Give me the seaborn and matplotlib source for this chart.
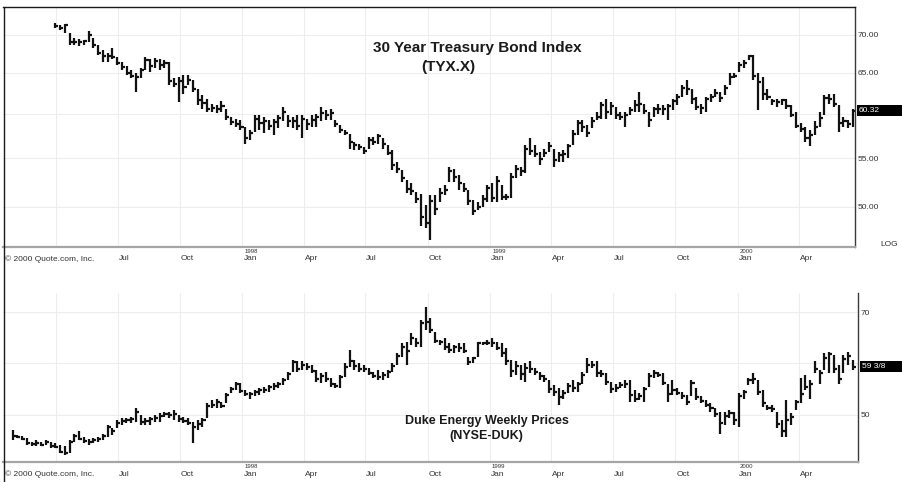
import numpy as np
import pandas as pd
import seaborn as sns
import matplotlib
matplotlib.use('Agg')
import matplotlib.pyplot as plt
import matplotlib.dates as mdates
import matplotlib.transforms as mtransforms
from matplotlib.patches import Rectangle
from matplotlib.lines import Line2D

# weekly bars
tyx_start = '1997-03-31'
tyx_high = [71.6, 71.3, 71.5, 70.2, 69.5, 69.4, 69.3, 70.5, 69.5, 68.6,
            67.9, 67.5, 68.2, 67.0, 66.4, 65.8, 65.3, 64.9, 65.6, 67.0,
            66.8, 66.9, 66.8, 66.6, 66.4, 64.3, 64.5, 64.7, 64.7, 64.1,
            63.0, 62.2, 61.8, 61.2, 61.0, 61.5, 60.6, 59.6, 59.4, 59.3,
            58.5, 58.1, 59.8, 59.8, 59.6, 59.3, 59.4, 59.8, 60.8, 59.8,
            59.6, 59.8, 59.8, 59.4, 59.8, 60.0, 60.8, 60.4, 60.6, 59.3,
            58.7, 58.1, 57.7, 56.8, 56.6, 56.2, 57.3, 57.3, 57.7, 57.2,
            56.4, 55.9, 54.6, 53.7, 52.7, 52.4, 51.5, 51.3, 50.2, 51.2,
            51.2, 51.9, 52.2, 54.1, 53.9, 53.2, 52.4, 51.7, 50.7, 50.5,
            51.2, 52.2, 52.4, 53.1, 52.2, 51.3, 53.4, 54.3, 54.1, 56.4,
            57.2, 56.4, 55.7, 56.0, 56.8, 56.0, 55.7, 55.9, 56.6, 58.1,
            59.3, 59.3, 58.7, 59.6, 60.2, 61.4, 61.8, 61.4, 60.8, 60.2,
            60.2, 60.8, 61.6, 62.6, 61.2, 60.2, 60.8, 61.2, 61.0, 61.2,
            61.8, 62.4, 63.4, 64.1, 63.0, 62.0, 61.2, 62.0, 62.4, 63.0,
            62.6, 63.4, 64.9, 64.9, 66.4, 66.6, 67.3, 67.3, 64.9, 64.5,
            63.0, 61.8, 61.8, 61.8, 61.8, 61.0, 60.2, 58.9, 58.5, 58.1,
            59.1, 60.2, 62.2, 62.4, 62.4, 61.0, 59.6, 59.3, 60.5]
tyx_low = [70.9, 70.7, 70.2, 68.6, 68.6, 68.5, 68.6, 69.0, 68.2, 67.3,
           66.4, 66.4, 66.8, 66.0, 65.3, 64.7, 64.3, 62.6, 64.3, 65.3,
           65.1, 65.6, 65.3, 65.6, 63.4, 63.2, 61.4, 62.4, 63.4, 62.6,
           61.0, 60.6, 60.2, 60.2, 60.1, 60.2, 59.3, 58.7, 58.5, 58.1,
           56.6, 57.0, 57.9, 58.1, 57.8, 58.1, 57.5, 58.3, 59.1, 58.5,
           58.3, 58.1, 57.2, 58.1, 58.5, 58.5, 59.1, 59.3, 59.3, 58.5,
           57.8, 57.5, 56.0, 55.9, 55.9, 55.5, 56.0, 56.4, 56.6, 56.0,
           55.3, 53.7, 53.4, 52.5, 51.4, 51.2, 50.4, 48.2, 48.0, 46.9,
           49.2, 50.5, 51.2, 52.5, 52.5, 51.7, 51.5, 50.2, 49.2, 49.7,
           50.0, 50.5, 50.5, 50.5, 50.7, 50.7, 50.9, 52.9, 53.1, 53.4,
           55.3, 55.1, 54.3, 55.1, 55.7, 54.1, 54.6, 54.6, 55.0, 56.4,
           57.5, 57.9, 57.3, 58.3, 59.3, 59.4, 59.4, 59.8, 59.4, 59.3,
           58.5, 59.8, 60.2, 60.2, 60.0, 58.5, 59.6, 60.0, 59.8, 59.3,
           60.4, 61.0, 62.0, 62.2, 61.2, 60.4, 60.0, 60.2, 61.4, 62.0,
           61.4, 62.2, 63.4, 64.3, 65.1, 65.6, 66.6, 64.1, 60.4, 61.6,
           61.6, 61.0, 60.8, 61.0, 60.6, 59.6, 58.3, 57.9, 56.8, 56.3,
           57.5, 58.5, 59.8, 61.2, 60.8, 57.9, 58.5, 58.3, 58.5]
tyx_close = [71.2, 70.9, 71.3, 69.0, 69.0, 69.0, 69.1, 69.9, 68.6, 67.6,
             67.1, 67.2, 67.0, 66.3, 65.7, 65.0, 64.6, 64.4, 65.4, 66.6,
             65.9, 66.5, 66.0, 66.3, 63.9, 63.6, 64.0, 63.2, 64.1, 63.0,
             61.6, 61.3, 60.6, 60.7, 60.5, 60.9, 59.6, 59.0, 58.8, 58.4,
             57.2, 57.8, 59.4, 58.9, 59.2, 58.6, 59.0, 59.5, 60.2, 59.1,
             59.2, 58.6, 59.4, 58.8, 59.3, 59.6, 60.1, 59.8, 60.1, 58.8,
             58.1, 57.8, 56.8, 56.4, 56.2, 55.8, 57.0, 56.8, 57.4, 56.5,
             55.6, 54.3, 53.8, 52.9, 51.8, 51.6, 50.8, 49.0, 48.5, 50.6,
             49.8, 51.4, 51.7, 53.6, 53.0, 52.4, 51.8, 50.6, 49.6, 50.0,
             50.8, 51.9, 50.9, 52.6, 51.0, 51.0, 53.0, 53.9, 53.6, 56.0,
             55.8, 55.5, 54.9, 55.6, 56.3, 54.8, 55.3, 55.5, 56.3, 57.7,
             58.9, 58.4, 57.8, 59.2, 59.6, 61.0, 60.2, 60.9, 59.9, 59.6,
             59.8, 60.4, 61.0, 61.2, 60.3, 59.3, 60.5, 60.6, 60.5, 60.9,
             61.5, 62.0, 63.1, 63.0, 61.7, 60.8, 60.7, 61.7, 62.0, 62.5,
             61.9, 63.1, 64.5, 64.6, 66.0, 66.3, 67.1, 64.6, 63.8, 62.3,
             62.0, 61.5, 61.4, 61.6, 60.9, 59.9, 58.6, 58.2, 57.2, 57.6,
             58.4, 59.5, 61.9, 61.8, 61.2, 58.9, 59.1, 58.8, 60.32]

duk_start = '1997-01-27'
duk_high = [47.1, 46.1, 45.9, 45.5, 44.8, 45.1, 44.8, 45.1, 44.8, 44.5,
            44.2, 43.9, 45.1, 46.4, 46.8, 45.8, 45.3, 45.5, 45.7, 46.4,
            48.1, 47.4, 49.0, 49.4, 49.4, 49.7, 51.3, 50.0, 49.4, 49.7,
            50.0, 50.3, 50.6, 50.6, 51.0, 50.0, 49.7, 49.4, 48.7, 49.0,
            49.4, 52.3, 52.9, 53.2, 52.6, 54.2, 55.5, 56.5, 56.2, 54.9,
            54.5, 54.9, 55.2, 55.5, 55.8, 56.2, 56.5, 57.1, 58.4, 60.7,
            60.4, 60.4, 60.0, 59.7, 58.7, 58.1, 58.4, 57.1, 56.2, 57.8,
            60.0, 62.6, 60.7, 60.0, 59.7, 59.1, 58.4, 58.7, 58.4, 58.7,
            60.0, 62.0, 63.9, 64.2, 65.9, 64.9, 68.4, 71.0, 68.8, 66.2,
            64.6, 64.9, 63.9, 63.6, 63.9, 63.9, 61.3, 61.3, 64.2, 64.2,
            64.6, 64.9, 64.2, 63.9, 63.0, 60.7, 60.4, 59.7, 60.0, 60.4,
            59.1, 58.4, 57.8, 56.8, 55.8, 55.2, 54.9, 56.2, 56.8, 56.5,
            58.4, 61.0, 60.4, 60.4, 58.7, 58.1, 56.5, 56.1, 56.5, 56.8,
            56.8, 54.9, 54.2, 55.5, 58.1, 58.7, 58.4, 58.1, 56.1, 56.8,
            55.2, 54.5, 53.9, 56.8, 55.2, 53.6, 52.9, 52.3, 51.3, 50.6,
            50.6, 51.0, 50.6, 54.2, 54.9, 57.1, 58.1, 56.8, 54.9, 51.9,
            51.9, 50.6, 49.0, 52.9, 50.3, 52.9, 57.1, 57.8, 56.8, 60.4,
            58.7, 62.0, 62.3, 61.6, 59.7, 61.6, 62.3, 60.7]
duk_low = [45.1, 45.5, 45.1, 44.2, 43.9, 43.9, 43.9, 44.2, 43.5, 43.5,
           42.6, 42.2, 42.6, 44.8, 45.1, 44.5, 44.2, 44.5, 44.8, 45.1,
           45.8, 46.1, 47.4, 48.1, 48.4, 48.4, 48.7, 48.1, 48.1, 48.1,
           48.7, 48.7, 49.7, 49.4, 49.0, 48.7, 48.4, 48.1, 44.5, 47.1,
           47.7, 49.4, 51.3, 51.3, 51.3, 52.3, 54.2, 54.9, 54.2, 53.6,
           53.2, 53.6, 53.9, 54.2, 54.5, 54.9, 55.2, 55.8, 56.8, 58.4,
           58.4, 58.7, 58.7, 58.1, 56.5, 56.2, 56.5, 55.5, 55.2, 55.2,
           57.4, 59.4, 58.7, 58.4, 58.4, 57.8, 57.1, 56.8, 56.8, 57.1,
           58.4, 59.7, 61.3, 59.7, 63.6, 63.3, 63.3, 66.5, 65.9, 63.9,
           63.6, 62.6, 62.0, 62.0, 62.3, 62.0, 59.7, 60.0, 61.3, 63.6,
           63.6, 63.3, 62.6, 61.3, 59.7, 57.4, 57.8, 56.8, 56.5, 58.1,
           57.8, 56.8, 56.5, 54.2, 53.6, 51.9, 53.2, 54.2, 54.5, 54.5,
           56.1, 58.1, 59.1, 57.4, 57.4, 55.8, 54.2, 54.5, 55.2, 55.2,
           52.6, 52.6, 52.9, 52.6, 55.5, 57.1, 57.4, 55.8, 52.6, 53.9,
           53.9, 53.2, 51.9, 53.6, 52.9, 52.3, 51.6, 50.6, 49.7, 46.4,
           48.1, 49.4, 48.1, 47.7, 53.2, 55.8, 56.1, 53.9, 51.6, 51.0,
           50.6, 47.4, 45.8, 45.8, 48.1, 51.0, 52.3, 54.9, 53.2, 58.1,
           56.1, 58.7, 58.1, 58.1, 56.1, 58.1, 59.7, 58.7]
duk_close = [46.0, 45.8, 45.4, 44.6, 44.3, 44.6, 44.2, 44.8, 44.0, 43.8,
             42.9, 42.6, 44.8, 45.9, 45.4, 45.0, 44.7, 45.1, 45.3, 46.0,
             47.6, 46.8, 48.5, 48.9, 49.0, 49.2, 50.6, 48.6, 48.8, 49.3,
             49.5, 49.9, 50.1, 50.0, 50.2, 49.3, 48.9, 48.4, 47.6, 48.2,
             49.0, 51.8, 52.0, 52.5, 51.8, 53.8, 55.0, 56.0, 54.6, 54.0,
             54.1, 54.4, 54.8, 54.9, 55.4, 55.6, 56.1, 56.8, 58.0, 60.2,
             59.0, 59.8, 59.4, 58.6, 57.0, 57.6, 57.0, 56.0, 55.6, 57.4,
             59.3, 60.5, 59.6, 59.0, 58.9, 58.2, 57.6, 57.4, 57.8, 58.3,
             59.6, 61.5, 63.3, 62.5, 65.0, 64.0, 67.8, 68.0, 66.6, 64.3,
             64.2, 63.3, 62.6, 63.2, 63.0, 62.4, 60.3, 61.0, 63.9, 63.9,
             64.0, 63.9, 63.0, 62.0, 60.4, 58.6, 59.6, 58.0, 59.2, 59.0,
             58.3, 57.5, 57.0, 55.0, 54.4, 53.5, 54.3, 55.6, 55.3, 56.0,
             57.8, 59.7, 59.8, 58.2, 58.0, 56.5, 55.0, 55.3, 55.8, 56.0,
             53.8, 53.2, 53.6, 55.1, 57.5, 58.2, 57.8, 56.3, 54.0, 54.8,
             54.3, 53.6, 52.6, 56.3, 53.4, 52.8, 52.0, 51.3, 50.2, 48.4,
             49.8, 50.4, 49.0, 53.6, 54.5, 56.7, 57.0, 54.5, 52.3, 51.4,
             51.2, 48.2, 46.9, 49.0, 49.7, 52.5, 54.0, 55.4, 56.0, 59.0,
             58.2, 61.0, 61.8, 59.0, 57.0, 60.8, 61.5, 59.375]

month_labels = ['', 'Jul', 'Oct', 'Jan', 'Apr', 'Jul', 'Oct', 'Jan', 'Apr',
                'Jul', 'Oct', 'Jan', 'Apr']
year_labels = {'1998-01-01': '1998', '1999-01-01': '1999', '2000-01-01': '2000'}
tyx_ticks = [50, 55, 60, 65, 70]
tyx_tick_labels = ['50.00', '55.00', '', '65.00', '70.00']
duk_ticks = [50, 60, 70]
duk_tick_labels = ['50', '', '70']

tyx = pd.DataFrame({'date': pd.date_range(tyx_start, periods=len(tyx_high), freq='7D'),
                    'high': tyx_high, 'low': tyx_low, 'close': tyx_close})
duk = pd.DataFrame({'date': pd.date_range(duk_start, periods=len(duk_high), freq='7D'),
                    'high': duk_high, 'low': duk_low, 'close': duk_close})

sns.set_theme(style='white')
plt.rcParams['font.family'] = ['Liberation Sans', 'DejaVu Sans']

W, H = 902, 482
fig = plt.figure(figsize=(W / 100, H / 100), dpi=100)


def box(x0, y0, x1, y1):
    return [x0 / W, 1 - y1 / H, (x1 - x0) / W, (y1 - y0) / H]


ax1 = fig.add_axes(box(3, 7, 855, 247))
ax2 = fig.add_axes(box(3, 293, 858, 462))

quarters = mdates.date2num(pd.date_range('1997-04-01', '2000-04-01', freq='QS'))
bar_col = '#111111'


def draw_bars(ax, df):
    x = mdates.date2num(df['date'])
    ax.vlines(x, df['low'], df['high'], color=bar_col, lw=1.6)
    ax.hlines(df['close'], x, x + 4.5, color=bar_col, lw=1.6)


def style_axis(ax):
    ax.set_xticks(quarters)
    ax.set_xticklabels([])
    ax.tick_params(axis='both', length=0)
    ax.yaxis.tick_right()
    ax.tick_params(axis='y', labelsize=6, labelcolor='#333333', pad=2)
    ax.grid(True, color='#ededed', lw=0.8)
    ax.set_axisbelow(True)
    ax.spines['left'].set_visible(False)
    ax.spines['bottom'].set_color('#a5a5a5')
    ax.spines['bottom'].set_linewidth(1.6)
    ax.spines['right'].set_color('#3a3a3a')
    ax.spines['right'].set_linewidth(1.0)
    # month / year labels under the axis
    for q, lab in zip(quarters, month_labels):
        ax.annotate(lab, xy=(q, 0), xycoords=('data', 'axes fraction'),
                    xytext=(1, -12), textcoords='offset pixels',
                    fontsize=6, ha='left', va='center', color='#333333')
    for d, lab in year_labels.items():
        ax.annotate(lab, xy=(mdates.date2num(pd.Timestamp(d)), 0),
                    xycoords=('data', 'axes fraction'),
                    xytext=(2, -4.5), textcoords='offset pixels',
                    fontsize=4.3, ha='left', va='center', color='#333333')
    ax.annotate('\u00a9 2000 Quote.com, Inc.', xy=(0, 0), xycoords='axes fraction',
                xytext=(2, -12), textcoords='offset pixels',
                fontsize=6, ha='left', va='center', color='#333333')


def price_box(ax, value, text, half):
    trans = mtransforms.blended_transform_factory(fig.transFigure, ax.transData)
    x0 = (ax.get_position().x1 * W + 2) / W
    rect = Rectangle((x0, value - half[0]), 1 - x0, half[0] + half[1],
                     transform=trans, facecolor='black', edgecolor='none')
    fig.add_artist(rect)
    fig.add_artist(plt.Text(x0 + 2 / W, value, text, transform=trans,
                            fontsize=6, color='white', va='center', ha='left'))


# top panel: treasury bond index, log scale
draw_bars(ax1, tyx)
ax1.set_yscale('log')
ax1.set_ylim(46.24, 73.9)
ax1.set_yticks(tyx_ticks)
ax1.set_yticklabels(tyx_tick_labels)
ax1.yaxis.set_minor_locator(matplotlib.ticker.NullLocator())
ax1.set_xlim(pd.Timestamp('1997-01-12 22:00'), pd.Timestamp('2000-06-22'))
style_axis(ax1)
ax1.spines['top'].set_color('#1a1a1a')
ax1.spines['top'].set_linewidth(1.0)
last = tyx['close'].iloc[-1]
price_box(ax1, last, f'{last:.2f}', (last * (1 - np.exp(-5.5 / 512)), last * (np.exp(5.5 / 512) - 1)))
fig.text(880 / W, 1 - 244 / H, 'LOG', fontsize=6, color='#333333', va='center', ha='left')
fig.text(477 / W, 1 - 48 / H, '30 Year Treasury Bond Index', fontsize=11,
         fontweight='bold', color='#1a1a1a', ha='center', va='center')
fig.text(448 / W, 1 - 67 / H, '(TYX.X)', fontsize=11,
         fontweight='bold', color='#1a1a1a', ha='center', va='center')

# bottom panel: duke energy, linear scale
draw_bars(ax2, duk)
ax2.set_ylim(40.87, 73.69)
ax2.set_yticks(duk_ticks)
ax2.set_yticklabels(duk_tick_labels)
ax2.set_xlim(pd.Timestamp('1997-01-12 22:00'), pd.Timestamp('2000-06-26 12:00'))
style_axis(ax2)
ax2.spines['top'].set_visible(False)
price_box(ax2, duk['close'].iloc[-1], '59 3/8', (1.07, 1.07))
fig.text(487 / W, 1 - 421 / H, 'Duke Energy Weekly Prices', fontsize=9,
         fontweight='bold', color='#1a1a1a', ha='center', va='center')
fig.text(486 / W, 1 - 436 / H, '(NYSE-DUK)', fontsize=9,
         fontweight='bold', color='#1a1a1a', ha='center', va='center')

# outer left border
fig.add_artist(Line2D([3.5 / W, 3.5 / W], [1 - 7 / H, 0], transform=fig.transFigure,
                      color='#1a1a1a', lw=1.0))

fig.savefig('out.png', dpi=100)
